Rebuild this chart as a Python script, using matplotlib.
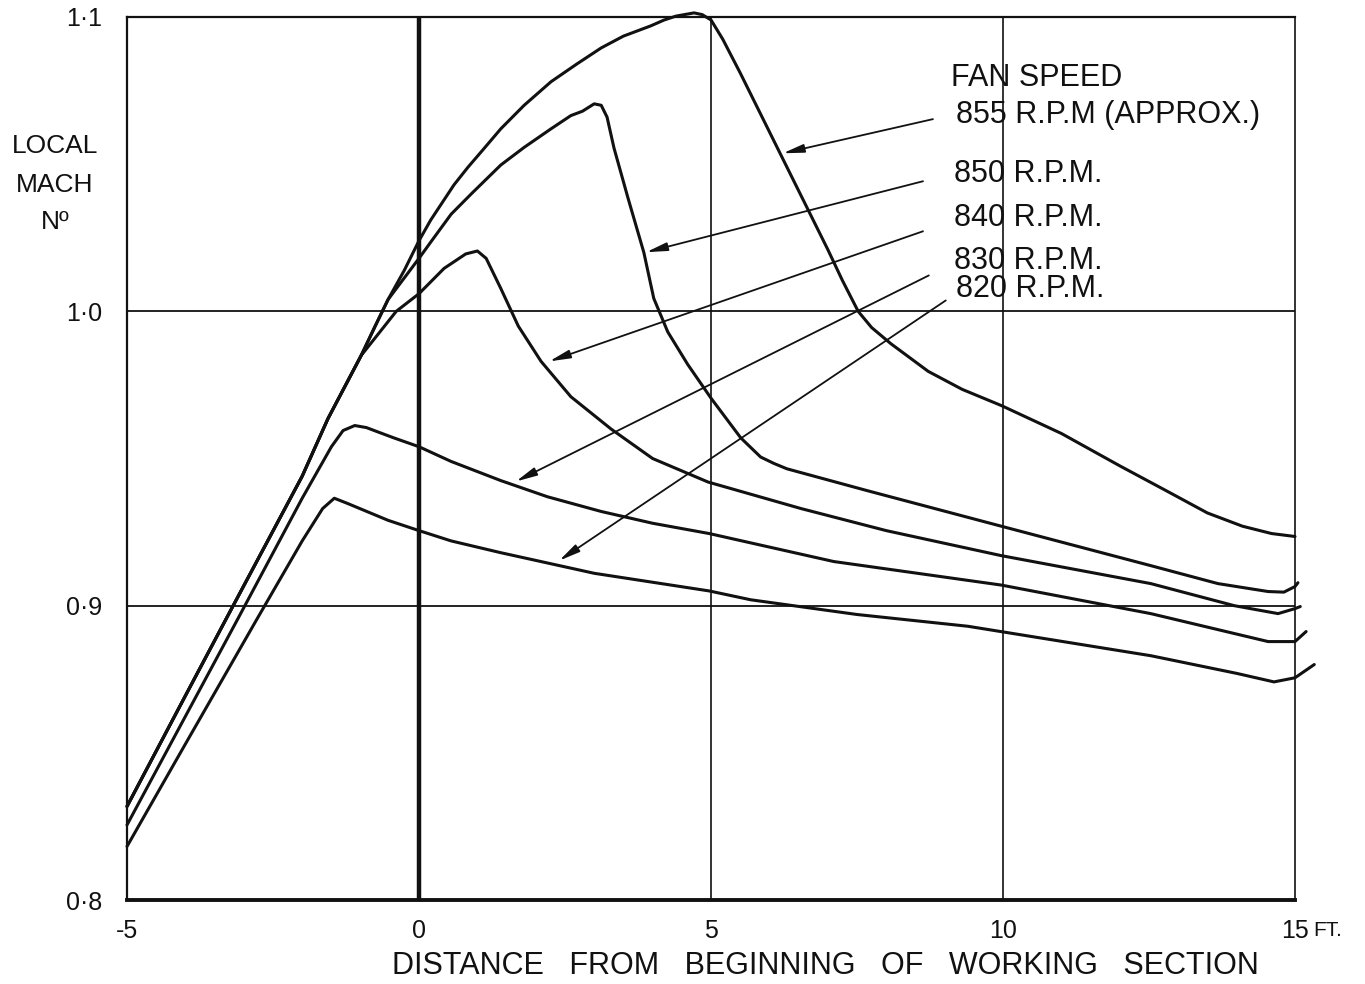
import matplotlib
matplotlib.use("Agg")
import matplotlib.pyplot as plt

# ---------------- data ----------------
# common rising trunk shared by the 855, 850 and 840 r.p.m. curves
trunk_x = [-5.0, -4.0, -3.3, -2.0, -1.56, -0.99]
trunk_y = [0.8318, 0.8694, 0.8956, 0.9440, 0.9635, 0.985]

x855 = trunk_x + [-0.75, -0.53, -0.25, 0.0, 0.2, 0.4, 0.6, 0.84, 1.1, 1.4, 1.8, 2.26, 2.7,
                  3.12, 3.5, 3.97, 4.2, 4.4, 4.71, 4.85, 5.0, 5.2, 5.5, 5.8, 6.1, 6.4, 6.7,
                  7.0, 7.25, 7.52, 7.75, 8.08, 8.72, 9.3, 9.97, 11.0, 12.0, 12.8, 13.5, 14.1,
                  14.6, 15.0]
y855 = trunk_y + [0.995, 1.004, 1.014, 1.024, 1.031, 1.037, 1.043, 1.049, 1.055, 1.062,
                  1.070, 1.078, 1.084, 1.0895, 1.0935, 1.097, 1.099, 1.1003, 1.1014, 1.1008,
                  1.099, 1.0925, 1.081, 1.069, 1.057, 1.045, 1.033, 1.021, 1.0105, 1.000,
                  0.9945, 0.989, 0.9796, 0.9735, 0.968, 0.9585, 0.9475, 0.939, 0.9315,
                  0.927, 0.9245, 0.9235]

x850 = trunk_x + [-0.75, -0.53, 0.0, 0.2, 0.55, 0.9, 1.4, 1.8, 2.26, 2.6, 2.8, 3.0, 3.12,
                  3.22, 3.34, 3.58, 3.85, 4.02, 4.26, 4.6, 5.0, 5.51, 5.85, 6.08, 6.3, 7.69,
                  9.97, 12.53, 13.68, 14.54, 14.81, 15.0, 15.05]
y850 = trunk_y + [0.995, 1.004, 1.018, 1.0235, 1.033, 1.040, 1.0497, 1.0557, 1.062, 1.0665,
                  1.068, 1.0705, 1.070, 1.066, 1.0554, 1.0384, 1.020, 1.0044, 0.993, 0.982,
                  0.9705, 0.957, 0.9505, 0.9483, 0.9465, 0.939, 0.927, 0.9136, 0.9075,
                  0.9048, 0.9046, 0.9065, 0.9078]

x840 = trunk_x + [-0.39, 0.0, 0.43, 0.8, 1.0, 1.15, 1.4, 1.7, 2.09, 2.6, 3.29, 4.0, 4.95,
                  6.54, 8.0, 9.97, 12.53, 13.96, 14.71, 15.0, 15.09]
y840 = trunk_y + [1.000, 1.006, 1.0146, 1.0195, 1.0205, 1.018, 1.0078, 0.995, 0.983, 0.971,
                  0.960, 0.950, 0.942, 0.933, 0.9255, 0.917, 0.9075, 0.900, 0.8973, 0.899,
                  0.8997]

x830 = [-5.0, -4.0, -3.1, -2.0, -1.5, -1.3, -1.1, -0.9, -0.7, -0.43, 0.0, 0.55, 1.4, 2.2,
        3.12, 4.0, 4.97, 7.1, 9.97, 12.53, 14.54, 15.0, 15.19]
y830 = [0.8255, 0.8624, 0.8956, 0.9365, 0.954, 0.9595, 0.9612, 0.9605, 0.959, 0.957, 0.954,
        0.949, 0.9425, 0.937, 0.932, 0.928, 0.9245, 0.915, 0.907, 0.8973, 0.8878, 0.8878,
        0.8912]

x820 = [-5.0, -4.0, -2.77, -2.0, -1.65, -1.45, -1.22, -0.53, 0.0, 0.55, 1.4, 3.0, 4.97,
        5.68, 7.5, 9.4, 12.53, 14.0, 14.64, 15.0, 15.33]
y820 = [0.8182, 0.853, 0.8956, 0.922, 0.933, 0.9365, 0.9347, 0.929, 0.9255, 0.922, 0.918,
        0.911, 0.905, 0.902, 0.897, 0.893, 0.883, 0.877, 0.8741, 0.8755, 0.880]

series_x = [x855, x850, x840, x830, x820]
series_y = [y855, y850, y840, y830, y820]

x_ticks = [-5, 0, 5, 10, 15]
x_tick_labels = ["-5", "0", "5", "10", "15"]
y_ticks = [0.8, 0.9, 1.0, 1.1]
y_tick_labels = ["0·8", "0·9", "1·0", "1·1"]

legend_title = "FAN SPEED"
legend_labels = ["855 R.P.M (APPROX.)", "850 R.P.M.", "840 R.P.M.", "830 R.P.M.", "820 R.P.M."]

# ---------------- layout ----------------
FONT = ["Liberation Sans", "DejaVu Sans"]
plt.rcParams["font.family"] = FONT
INK = "#111111"

W, H = 1365, 984
fig = plt.figure(figsize=(W / 100, H / 100), dpi=100)
fig.patch.set_facecolor("white")
ax = fig.add_axes([127 / W, 1 - 900 / H, (1295 - 127) / W, (900 - 17) / H])
ax.set_xlim(-5, 15)
ax.set_ylim(0.8, 1.1)

# grid
for yv in [0.9, 1.0]:
    ax.axhline(yv, color=INK, lw=1.3, zorder=1)
for xv in [5, 10]:
    ax.axvline(xv, color=INK, lw=1.2, zorder=1)
ax.axvline(0, color=INK, lw=3.2, zorder=1)

for s in ["top", "left"]:
    ax.spines[s].set_linewidth(1.6)
ax.spines["right"].set_linewidth(1.2)
ax.spines["bottom"].set_linewidth(2.8)
for s in ax.spines.values():
    s.set_color(INK)

# curves
for xs, ys in zip(series_x, series_y):
    ax.plot(xs, ys, color=INK, lw=2.2, solid_capstyle="round", solid_joinstyle="round",
            clip_on=False, zorder=3)

# ticks
ax.set_xticks(x_ticks)
ax.set_xticklabels(x_tick_labels, fontsize=18, color=INK)
ax.set_yticks(y_ticks)
ax.set_yticklabels(y_tick_labels, fontsize=18, color=INK)
ax.tick_params(axis="x", length=0, pad=14)
ax.tick_params(axis="y", length=0, pad=18)
fig.text(1313 / W, 1 - 931 / H, "FT.", fontsize=15, color=INK, ha="left", va="center")

# axis labels
for txt, ypx in [("LOCAL", 146), ("MACH", 185), ("Nº", 222)]:
    fig.text(55 / W, 1 - ypx / H, txt, fontsize=19, color=INK, ha="center", va="center")
fig.text(825 / W, 1 - 966 / H,
         "DISTANCE   FROM   BEGINNING   OF   WORKING   SECTION",
         fontsize=22, color=INK, ha="center", va="center")

# legend texts
ax.text(9.11, 1.0793, legend_title, fontsize=22, color=INK, ha="left", va="center")
label_pos = [(9.195, 1.0667), (9.16, 1.0466), (9.16, 1.0316), (9.16, 1.0170), (9.195, 1.0075)]
for (lx, ly), lab in zip(label_pos, legend_labels):
    ax.text(lx, ly, lab, fontsize=22, color=INK, ha="left", va="center")

# arrows (tail near label -> head on curve)
arrow_tails = [(8.80, 1.0653), (8.63, 1.0442), (8.63, 1.0272), (8.73, 1.0122), (9.02, 1.0037)]
arrow_heads = [(6.23, 1.0537), (3.89, 1.0201), (2.23, 0.9830), (1.66, 0.9422), (2.40, 0.9153)]
for t, hd in zip(arrow_tails, arrow_heads):
    ax.annotate("", xy=hd, xytext=t,
                arrowprops=dict(arrowstyle="-|>,head_length=0.9,head_width=0.18",
                                lw=1.3, color=INK, shrinkA=0, shrinkB=0,
                                mutation_scale=14),
                zorder=4)

fig.savefig("out.png", dpi=100, facecolor="white")
